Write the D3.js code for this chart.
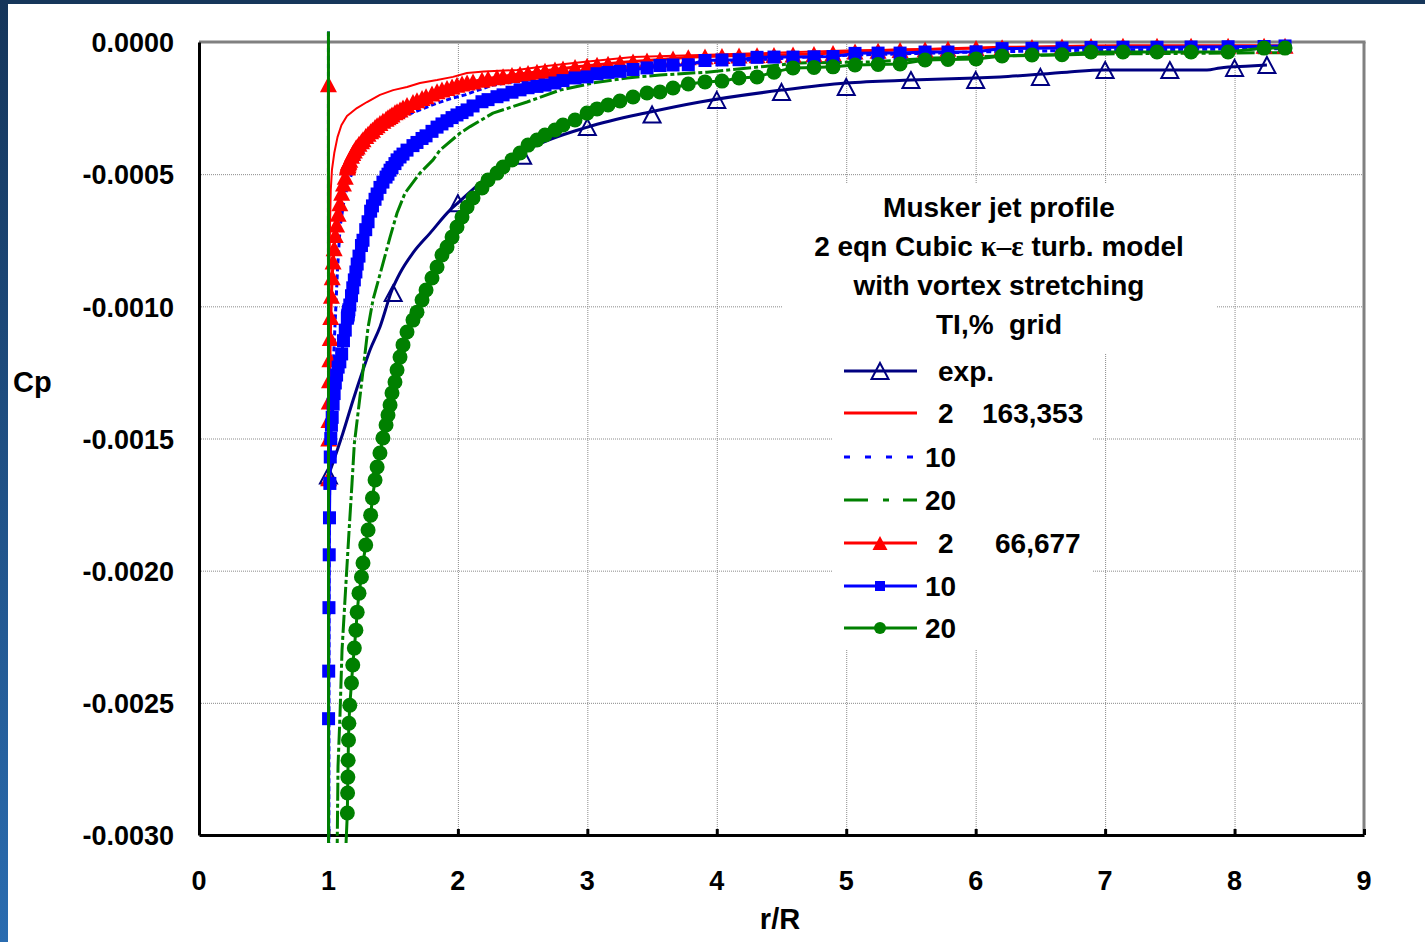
<!DOCTYPE html>
<html><head><meta charset="utf-8">
<script src="https://cdn.jsdelivr.net/npm/d3@7"></script>
<style>
html,body{margin:0;padding:0;background:#fff;}
svg{display:block;}
text{font-family:"Liberation Sans",Arial,Helvetica,sans-serif;font-weight:bold;fill:#000;white-space:pre;}
</style></head><body>
<svg id="chart" width="1425" height="942"></svg>
<script>
// ---------------- DATA ----------------
const CP_UNIT = 1e-4;               // Cp arrays below are stored in units of 1e-4
const xTicks = [0,1,2,3,4,5,6,7,8,9];
const yTicks = [0,-0.0005,-0.0010,-0.0015,-0.0020,-0.0025,-0.0030];
const xLabel = "r/R";
const yLabel = "Cp";
const titleLines = ["Musker jet profile","2 eqn Cubic |κ–ε| turb. model","with vortex stretching","TI,%  grid"];
const legendNames = ["exp.","2","10","20","2","10","20"];
const legendGrid  = ["","163,353","","","66,677","",""];

// experiment
const expLineR  = [1.000,1.112,1.190,1.267,1.321,1.398,1.491,1.553,1.653,1.785,1.939,2.000,2.225,2.580,3.000,3.484,3.870,4.500,5.000,5.500,6.000,6.188,6.706,6.984,7.787,7.888,8.120,8.250];
const expLineCp = [-16.4,-14.79,-13.55,-12.41,-11.65,-10.78,-9.38,-8.74,-7.98,-7.23,-6.36,-6.09,-5.11,-3.97,-3.22,-2.65,-2.27,-1.82,-1.55,-1.44,-1.36,-1.32,-1.14,-1.06,-1.06,-0.98,-0.91,-0.87];
const expPtsR   = [1.0,1.5,2.0,2.5,3.0,3.5,4.0,4.5,5.0,5.5,6.0,6.5,7.0,7.5,8.0,8.25];
const expPtsCp  = [-16.4,-9.5,-6.1,-4.3,-3.22,-2.74,-2.19,-1.89,-1.7,-1.44,-1.44,-1.32,-1.06,-1.06,-0.98,-0.87];

// grid 163,353 (lines only)
const red2FineR   = [1.000,1.004,1.008,1.012,1.018,1.027,1.045,1.070,1.100,1.143,1.220,1.298,1.398,1.500,1.607,1.707,1.839,1.962,2.070,2.200,2.457,2.700,2.967,3.353,3.870,4.500,5.000,6.000,7.000,8.430];
const red2FineCp  = [-16.0,-12.0,-9.0,-7.0,-5.6,-4.84,-4.2,-3.6,-3.15,-2.8,-2.5,-2.27,-2.0,-1.82,-1.7,-1.55,-1.44,-1.32,-1.17,-1.12,-1.06,-0.9,-0.76,-0.57,-0.49,-0.4,-0.32,-0.24,-0.19,-0.16];
const blue10FineR  = [1.000,1.001,1.005,1.010,1.020,1.035,1.050,1.070,1.090,1.120,1.150,1.200,1.300,1.400,1.500,1.607,1.707,1.839,1.962,2.055,2.117,2.271,2.380,2.580,3.000,3.500,4.000,4.500,5.000,6.000,7.000,8.430];
const blue10FineCp = [0.4,-40,-20,-16,-14,-12.5,-10.8,-8.6,-7.0,-6.0,-5.4,-4.7,-3.9,-3.4,-3.06,-2.76,-2.57,-2.31,-2.12,-2.0,-1.89,-1.63,-1.55,-1.36,-1.15,-0.95,-0.75,-0.62,-0.5,-0.38,-0.3,-0.25];
const green20FineR  = [1.060,1.074,1.089,1.105,1.135,1.158,1.182,1.200,1.244,1.282,1.306,1.344,1.414,1.476,1.530,1.592,1.707,1.808,1.862,2.016,2.094,2.271,2.534,2.789,3.044,3.307,3.561,3.925,4.643,5.161,5.671,6.188,7.000,8.430];
const green20FineCp = [-34,-27.4,-25.5,-23.0,-20.5,-18.6,-16.7,-15.2,-13.4,-11.8,-10.8,-9.76,-8.51,-7.38,-6.47,-5.71,-4.96,-4.46,-4.09,-3.45,-3.2,-2.69,-2.27,-1.82,-1.55,-1.36,-1.25,-1.14,-0.79,-0.76,-0.61,-0.53,-0.45,-0.4];

// grid 66,677 (lines with markers) - shared radial stations
const grid66R = [
 1.000,1.001,1.002,1.004,1.006,1.008,1.011,1.014,1.018,1.023,
 1.029,1.036,1.044,1.053,1.063,1.075,1.088,1.102,1.116,1.130,
 1.146,1.148,1.150,1.152,1.155,1.158,1.165,1.178,1.188,1.200,
 1.212,1.222,1.236,1.255,1.267,1.288,1.306,1.326,1.340,1.360,
 1.376,1.398,1.421,1.445,1.460,1.476,1.491,1.514,1.530,1.553,
 1.576,1.607,1.653,1.684,1.723,1.754,1.800,1.839,1.877,1.916,
 1.955,1.993,2.032,2.071,2.117,2.186,2.233,2.302,2.349,2.418,
 2.480,2.542,2.611,2.673,2.750,2.812,2.905,2.998,3.075,3.160,
 3.252,3.353,3.461,3.561,3.662,3.780,3.909,4.040,4.172,4.311,
 4.442,4.589,4.751,4.898,5.068,5.246,5.416,5.609,5.786,6.003,
 6.204,6.435,6.667,6.891,7.138,7.401,7.664,7.950,8.228,8.390];
const red2Cp66 = [
 -1.6,-16.5,-15.0,-14.3,-13.6,-12.8,-12.0,-11.2,-10.4,-9.6,
 -8.9,-8.3,-7.8,-7.3,-6.9,-6.5,-6.1,-5.7,-5.35,-5.1,
 -4.75,-4.7,-4.65,-4.6,-4.55,-4.52,-4.45,-4.3,-4.2,-4.1,
 -4.0,-3.95,-3.85,-3.75,-3.68,-3.56,-3.47,-3.38,-3.32,-3.22,
 -3.15,-3.06,-2.98,-2.9,-2.85,-2.8,-2.74,-2.66,-2.62,-2.55,
 -2.48,-2.38,-2.27,-2.2,-2.12,-2.05,-1.95,-1.86,-1.8,-1.74,
 -1.68,-1.62,-1.57,-1.53,-1.49,-1.43,-1.38,-1.33,-1.3,-1.25,
 -1.21,-1.17,-1.13,-1.09,-1.04,-1.0,-0.95,-0.9,-0.86,-0.82,
 -0.78,-0.74,-0.7,-0.66,-0.62,-0.58,-0.55,-0.53,-0.51,-0.5,
 -0.49,-0.47,-0.45,-0.42,-0.36,-0.33,-0.3,-0.28,-0.26,-0.23,
 -0.2,-0.19,-0.17,-0.15,-0.14,-0.14,-0.14,-0.14,-0.14,-0.14];
const blue10Cp66 = [
 -40,-25.6,-23.8,-21.4,-19.4,-18.0,-16.7,-15.7,-15.0,-14.5,
 -14.2,-13.7,-13.3,-12.9,-12.6,-12.3,-12.1,-11.8,-11.3,-10.9,
 -10.45,-10.4,-10.35,-10.3,-10.2,-10.13,-9.95,-9.6,-9.3,-9.0,
 -8.7,-8.4,-8.1,-7.7,-7.5,-7.1,-6.8,-6.4,-6.2,-5.95,
 -5.75,-5.5,-5.3,-5.11,-5.0,-4.85,-4.75,-4.6,-4.46,-4.35,
 -4.24,-4.09,-3.92,-3.8,-3.65,-3.55,-3.38,-3.22,-3.1,-2.98,
 -2.86,-2.76,-2.67,-2.57,-2.42,-2.26,-2.18,-2.07,-2.0,-1.9,
 -1.81,-1.73,-1.68,-1.63,-1.55,-1.46,-1.36,-1.32,-1.2,-1.15,
 -1.11,-1.04,-0.98,-0.89,-0.87,-0.86,-0.7,-0.68,-0.67,-0.58,
 -0.57,-0.57,-0.56,-0.55,-0.43,-0.42,-0.42,-0.38,-0.38,-0.37,
 -0.25,-0.24,-0.23,-0.21,-0.2,-0.2,-0.19,-0.18,-0.17,-0.15];
const green20Cp66 = [
 0.4,-40,-40,-40,-40,-40,-40,-40,-40,-40,
 -40,-40,-40,-40,-40,-39,-38,-36,-33,-31,
 -29.17,-28.41,-27.81,-27.17,-26.41,-25.77,-25.09,-24.25,-23.57,-22.93,
 -22.25,-21.57,-20.85,-20.24,-19.71,-19.03,-18.46,-17.9,-17.25,-16.57,
 -16.08,-15.55,-14.98,-14.49,-14.11,-13.73,-13.28,-12.86,-12.41,-11.92,
 -11.46,-10.97,-10.52,-10.22,-9.76,-9.38,-8.93,-8.51,-8.06,-7.76,
 -7.38,-7.0,-6.62,-6.24,-5.9,-5.52,-5.22,-4.96,-4.73,-4.46,
 -4.2,-3.9,-3.71,-3.52,-3.33,-3.14,-2.95,-2.69,-2.53,-2.38,
 -2.23,-2.08,-1.93,-1.89,-1.74,-1.59,-1.51,-1.48,-1.36,-1.32,
 -1.14,-0.98,-0.96,-0.94,-0.87,-0.85,-0.83,-0.68,-0.66,-0.64,
 -0.53,-0.49,-0.48,-0.38,-0.38,-0.38,-0.38,-0.38,-0.23,-0.23];

// ---------------- DRAW ----------------
const W = 1425, H = 942;
const svg = d3.select("#chart");
const defs = svg.append("defs");
const grad = defs.append("linearGradient").attr("id","edge").attr("x1",0).attr("y1",0).attr("x2",0).attr("y2",1);
grad.append("stop").attr("offset","0%").attr("stop-color","#15355a");
grad.append("stop").attr("offset","100%").attr("stop-color","#2a6cb0");

svg.append("rect").attr("width",W).attr("height",H).attr("fill","#fff");
svg.append("rect").attr("x",0).attr("y",0).attr("width",W).attr("height",4).attr("fill","#16365a");
svg.append("rect").attr("x",0).attr("y",0).attr("width",8).attr("height",H).attr("fill","url(#edge)");

const x = d3.scaleLinear().domain([0,9]).range([199,1364]);
const y = d3.scaleLinear().domain([-0.003,0]).range([835,42]);

// gridlines
const grid = svg.append("g");
grid.selectAll(".vg").data(xTicks.filter(v=>v>0 && v<9)).enter().append("line")
  .attr("x1",d=>x(d)+0.5).attr("x2",d=>x(d)+0.5).attr("y1",y(0)).attr("y2",y(-0.003))
  .attr("stroke","#8a8a8a").attr("stroke-width",1).attr("stroke-dasharray","1,1");
grid.selectAll(".hg").data(yTicks.filter(v=>v<0 && v>-0.003)).enter().append("line")
  .attr("x1",x(0)).attr("x2",x(9)).attr("y1",d=>y(d)+0.5).attr("y2",d=>y(d)+0.5)
  .attr("stroke","#8a8a8a").attr("stroke-width",1).attr("stroke-dasharray","1,1");

// legend background boxes
svg.append("rect").attr("x",783).attr("y",184).attr("width",434).attr("height",169).attr("fill","#fff");
svg.append("rect").attr("x",833).attr("y",352).attr("width",260).attr("height",298).attr("fill","#fff");

// plot border (top/right gray)
svg.append("line").attr("x1",x(0)).attr("x2",x(9)+1.5).attr("y1",y(0)).attr("y2",y(0)).attr("stroke","#808080").attr("stroke-width",3);
svg.append("line").attr("x1",x(9)).attr("x2",x(9)).attr("y1",y(0)).attr("y2",y(-0.003)).attr("stroke","#808080").attr("stroke-width",3);

// axes
const fmt = v => d3.format(".4f")(v).replace("\u2212","-");
const gx = svg.append("g").attr("transform",`translate(0,${y(-0.003)})`)
  .call(d3.axisBottom(x).tickValues(xTicks).tickSize(-6).tickSizeOuter(0).tickFormat(""));
gx.select(".domain").attr("stroke","#000").attr("stroke-width",3);
gx.selectAll(".tick line").attr("stroke","#000").attr("stroke-width",3);
const gy = svg.append("g").attr("transform",`translate(${x(0)},0)`)
  .call(d3.axisLeft(y).tickValues(yTicks).tickSize(0).tickSizeOuter(0).tickPadding(25).tickFormat(fmt));
gy.select(".domain").attr("stroke","#000").attr("stroke-width",3);
gy.selectAll(".tick text").attr("font-size",27).attr("font-family","'Liberation Sans',Arial,sans-serif").attr("font-weight","bold").attr("fill","#000").attr("dy","0.36em");

svg.selectAll(".xl").data(xTicks).enter().append("text")
  .attr("x",d=>x(d)).attr("y",890).attr("text-anchor","middle").attr("font-size",27).text(d=>d);
svg.append("text").attr("x",780).attr("y",929).attr("text-anchor","middle").attr("font-size",29).text(xLabel);
svg.append("text").attr("x",13).attr("y",392).attr("font-size",29).text(yLabel);

// data
defs.append("clipPath").attr("id","plotclip").append("rect")
  .attr("x",x(0)).attr("y",30).attr("width",x(9)-x(0)).attr("height",843-30);
const plot = svg.append("g").attr("clip-path","url(#plotclip)");

const triPath = (hw,h) => `M0,${-h/2}L${hw},${h/2}L${-hw},${h/2}Z`;
const mk = {
  openTri: g => g.append("path").attr("d",triPath(8.5,16)).attr("fill","none").attr("stroke","#000080").attr("stroke-width",2),
  tri: g => g.append("path").attr("d",triPath(8.5,16)).attr("fill","#ff0000"),
  sq: g => g.append("rect").attr("x",-6.5).attr("y",-6.5).attr("width",13).attr("height",13).attr("fill","#0000ff"),
  circ: g => g.append("circle").attr("r",7.5).attr("fill","#008000")
};
const legMk = {
  openTri: mk.openTri,
  tri: g => g.append("path").attr("d",triPath(7.5,14)).attr("fill","#ff0000"),
  sq: g => g.append("rect").attr("x",-5).attr("y",-5).attr("width",10).attr("height",10).attr("fill","#0000ff"),
  circ: g => g.append("circle").attr("r",6).attr("fill","#008000")
};

function pts(rs, cps){ return rs.map((r,i)=>[r, cps[i]*CP_UNIT]); }
function drawLine(data, color, width, dash, curve){
  plot.append("path").datum(data)
    .attr("d", d3.line().x(d=>x(d[0])).y(d=>y(d[1])).curve(curve||d3.curveLinear))
    .attr("fill","none").attr("stroke",color).attr("stroke-width",width)
    .attr("stroke-linejoin","round").attr("stroke-dasharray",dash||null);
}
function drawMarkers(data, kind){
  const inRange = data.filter(d=>d[1]<=0.00001 && d[1]>=-0.00305);
  inRange.forEach(d=>{
    const g = plot.append("g").attr("transform",`translate(${x(d[0])},${y(d[1])})`);
    mk[kind](g);
  });
}

drawLine(pts(expLineR,expLineCp),"#000080",3,null,d3.curveMonotoneX);
drawMarkers(pts(expPtsR,expPtsCp),"openTri");
drawLine(pts(red2FineR,red2FineCp),"#ff0000",2);
drawLine(pts(blue10FineR,blue10FineCp),"#0000ff",3,"5,3");
drawLine(pts(green20FineR,green20FineCp),"#008000",3,"18,3,4,3");
drawLine(pts(grid66R,red2Cp66),"#ff0000",3);
drawMarkers(pts(grid66R,red2Cp66),"tri");
drawLine(pts(grid66R,blue10Cp66),"#0000ff",3);
drawMarkers(pts(grid66R,blue10Cp66),"sq");
drawLine(pts(grid66R,green20Cp66),"#008000",3);
drawMarkers(pts(grid66R,green20Cp66),"circ");

// legend title
titleLines.forEach((line,i)=>{
  const parts = line.split("|");
  const t = svg.append("text").attr("x",999).attr("y",217+i*39).attr("text-anchor","middle").attr("font-size",28);
  parts.forEach((p,j)=>{
    const s = t.append("tspan").text(p);
    if (j===1) s.attr("font-family","'Liberation Serif','Times New Roman',serif").attr("font-size",29);
  });
});

// legend entries
const rowsY = [371,413,457,500,543,586,628];
const styles = [
  {c:"#000080",w:3,dash:null,m:"openTri"},
  {c:"#ff0000",w:3,dash:null,m:null},
  {c:"#0000ff",w:3,dash:"6,15",m:null},
  {c:"#008000",w:3,dash:"24,15,6,14",m:null},
  {c:"#ff0000",w:3,dash:null,m:"tri"},
  {c:"#0000ff",w:3,dash:null,m:"sq"},
  {c:"#008000",w:3,dash:null,m:"circ"}
];
const nameX = [938,938,925,925,938,925,925];
const gridX = [0,982,0,0,995,0,0];
const leg = svg.append("g");
styles.forEach((s,i)=>{
  const yy = rowsY[i];
  leg.append("line").attr("x1",844).attr("x2",917).attr("y1",yy).attr("y2",yy)
    .attr("stroke",s.c).attr("stroke-width",s.w).attr("stroke-dasharray",s.dash);
  if (s.m){ const g = leg.append("g").attr("transform",`translate(880,${yy})`); legMk[s.m](g); }
  leg.append("text").attr("x",nameX[i]).attr("y",yy+10).attr("font-size",28).text(legendNames[i]);
  if (legendGrid[i]) leg.append("text").attr("x",gridX[i]).attr("y",yy+10).attr("font-size",28).text(legendGrid[i]);
});
</script>
</body></html>
